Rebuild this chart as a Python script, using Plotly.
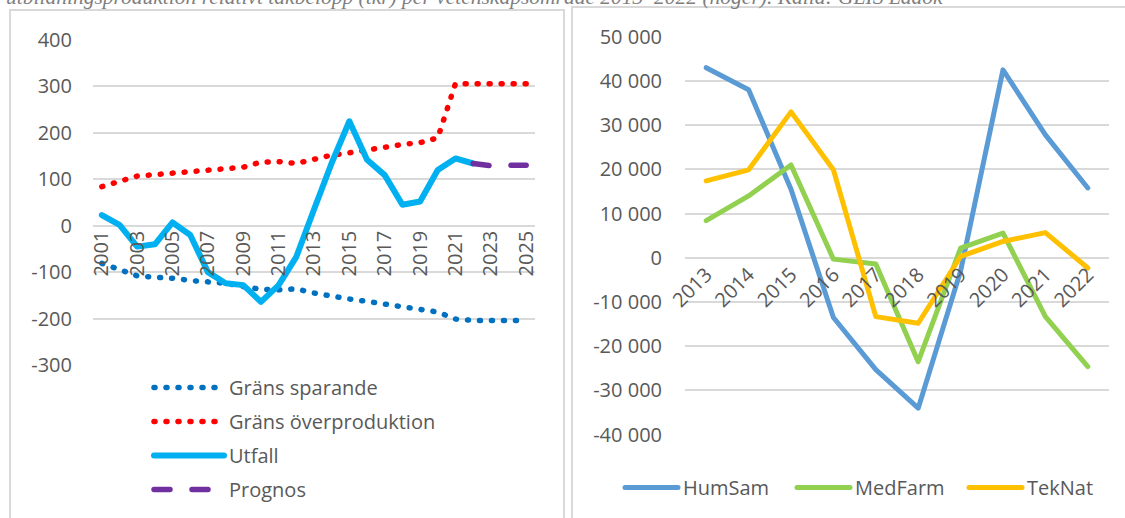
import plotly.graph_objects as go

# ---------------- data ----------------
years_left = list(range(2001, 2026))
grans_sparande = [-81, -95, -108, -111, -113, -118, -121, -124, -131, -137, -138, -136, -145,
                  -152, -158, -163, -169, -175, -180, -186, -201, -204, -204, -204, -204]
grans_over = [84, 96, 107, 110, 113, 118, 120, 123, 126, 137, 138, 134, 143,
              152, 157, 164, 169, 175, 179, 189, 306, 306, 306, 306, 306]
utfall_years = list(range(2001, 2023))
utfall = [23, 2, -45, -40, 7, -20, -100, -124, -128, -164, -128, -67, 35,
          135, 225, 142, 109, 45, 52, 120, 145, 134]
prognos_years = [2022, 2023, 2024, 2025]
prognos = [134, 129, 130, 130]

left_tickvals = [-300, -200, -100, 0, 100, 200, 300, 400]
left_ticktext = ["-300", "-200", "-100", "0", "100", "200", "300", "400"]
left_xticks = list(range(2001, 2026, 2))
left_xticktext = [str(y) for y in left_xticks]

years_right = list(range(2013, 2023))
humsam = [43000, 38000, 15500, -13500, -25300, -34000, -3000, 42500, 27800, 15800]
medfarm = [8400, 14000, 21000, -300, -1400, -23500, 2200, 5600, -13300, -24600]
teknat = [17400, 19900, 33000, 19900, -13300, -14800, 300, 3700, 5700, -2300]

right_tickvals = [-40000, -30000, -20000, -10000, 0, 10000, 20000, 30000, 40000, 50000]
right_ticktext = ["-40 000", "-30 000", "-20 000", "-10 000", "0", "10 000",
                  "20 000", "30 000", "40 000", "50 000"]
right_xticktext = [str(y) for y in years_right]

caption = ("<i>utbildningsproduktion relativt takbelopp (tkr) per vetenskapsområde "
           "2013–2022 (höger). Källa: GLIS Ladok</i>")

# ---------------- figure ----------------
W, H = 1125, 518
TXT = "#595959"
GRID = "#d9d9d9"
FONT = "Open Sans"


def px_x(p):
    return p / W


def px_y(p):
    return 1 - p / H


fig = go.Figure()

fig.add_trace(go.Scatter(x=years_left, y=grans_sparande, name="Gräns sparande",
                         mode="lines", line=dict(color="#0070C0", width=5.5, dash="1px,11px"),
                         xaxis="x", yaxis="y", legend="legend", legendgroup="a"))
fig.add_trace(go.Scatter(x=years_left, y=grans_over, name="Gräns överproduktion",
                         mode="lines", line=dict(color="#FF0000", width=5.5, dash="1px,11px"),
                         xaxis="x", yaxis="y", legend="legend", legendgroup="b"))
fig.add_trace(go.Scatter(x=utfall_years, y=utfall, name="Utfall",
                         mode="lines", line=dict(color="#00B0F0", width=6),
                         xaxis="x", yaxis="y", legend="legend", legendgroup="c"))
fig.add_trace(go.Scatter(x=prognos_years, y=prognos, name="Prognos",
                         mode="lines", line=dict(color="#7030A0", width=5.5, dash="16px,22px"),
                         xaxis="x", yaxis="y", legend="legend", legendgroup="d"))

fig.add_trace(go.Scatter(x=years_right, y=humsam, name="HumSam", mode="lines",
                         line=dict(color="#5B9BD5", width=5),
                         xaxis="x2", yaxis="y2", legend="legend2"))
fig.add_trace(go.Scatter(x=years_right, y=medfarm, name="MedFarm", mode="lines",
                         line=dict(color="#92D050", width=5),
                         xaxis="x2", yaxis="y2", legend="legend2"))
fig.add_trace(go.Scatter(x=years_right, y=teknat, name="TekNat", mode="lines",
                         line=dict(color="#FFC000", width=5),
                         xaxis="x2", yaxis="y2", legend="legend2"))

ly0, ly1 = px_y(365), px_y(40)
ry0, ry1 = px_y(434.7), px_y(36.7)

tickfont = dict(family=FONT, size=20, color=TXT)

fig.update_layout(
    template="none",
    width=W, height=H, autosize=False,
    margin=dict(l=0, r=0, t=0, b=0, pad=0, autoexpand=False),
    paper_bgcolor="white", plot_bgcolor="white",
    font=dict(family=FONT, color=TXT, size=20),
    showlegend=True,
    xaxis=dict(domain=[px_x(93), px_x(535)], range=[2000.5, 2025.5],
               anchor="free", position=px_y(225.7), automargin=False,
               tickvals=left_xticks, ticktext=left_xticktext, tickangle=-90,
               showgrid=False, zeroline=False, showline=False, ticks="",
               tickfont=tickfont),
    yaxis=dict(domain=[ly0, ly1], range=[-300, 400], anchor="x", automargin=False,
               tickvals=left_tickvals, ticktext=left_ticktext,
               showgrid=True, gridcolor=GRID, gridwidth=2, zeroline=False,
               showline=False, ticks="", tickfont=tickfont, ticklabelstandoff=20),
    xaxis2=dict(domain=[px_x(685), px_x(1109)], range=[2012.5, 2022.5],
                anchor="free", position=px_y(258), automargin=False,
                tickvals=years_right, ticktext=right_xticktext, tickangle=-45,
                showgrid=False, zeroline=False, showline=False, ticks="",
                tickfont=tickfont),
    yaxis2=dict(domain=[ry0, ry1], range=[-40000, 50000], anchor="x2", automargin=False,
                tickvals=right_tickvals, ticktext=right_ticktext,
                showgrid=True, gridcolor=GRID, gridwidth=2, zeroline=False,
                showline=False, ticks="", tickfont=tickfont, ticklabelstandoff=22),
    legend=dict(x=px_x(149), y=px_y(368), xanchor="left", yanchor="top",
                orientation="v", tracegroupgap=5, itemwidth=70,
                font=dict(family=FONT, size=20, color=TXT), bgcolor="rgba(0,0,0,0)"),
    legend2=dict(x=px_x(620), y=px_y(468), xanchor="left", yanchor="top",
                 orientation="h", itemwidth=53, entrywidth=104, entrywidthmode="pixels",
                 font=dict(family=FONT, size=20, color=TXT), bgcolor="rgba(0,0,0,0)"),
    shapes=[
        dict(type="rect", xref="paper", yref="paper",
             x0=px_x(10), x1=px_x(564), y0=-0.1, y1=px_y(10),
             line=dict(color=GRID, width=2), layer="below"),
        dict(type="rect", xref="paper", yref="paper",
             x0=px_x(572), x1=1.1, y0=-0.1, y1=px_y(7),
             line=dict(color=GRID, width=2), layer="below"),
    ],
    annotations=[
        dict(text=caption, xref="paper", yref="paper", x=px_x(4), y=px_y(11),
             xanchor="left", yanchor="bottom", showarrow=False,
             font=dict(family="Liberation Serif", size=21.5, color="#7f7f7f")),
    ],
)

post = """
document.body.style.margin='0';
document.querySelectorAll('.scatterlayer .js-line, .legendlines path').forEach(function(p){
  p.style.strokeLinecap='round'; p.style.strokeLinejoin='round';
});
"""

fig.write_html("out.html", post_script=post, config={"displayModeBar": False})
